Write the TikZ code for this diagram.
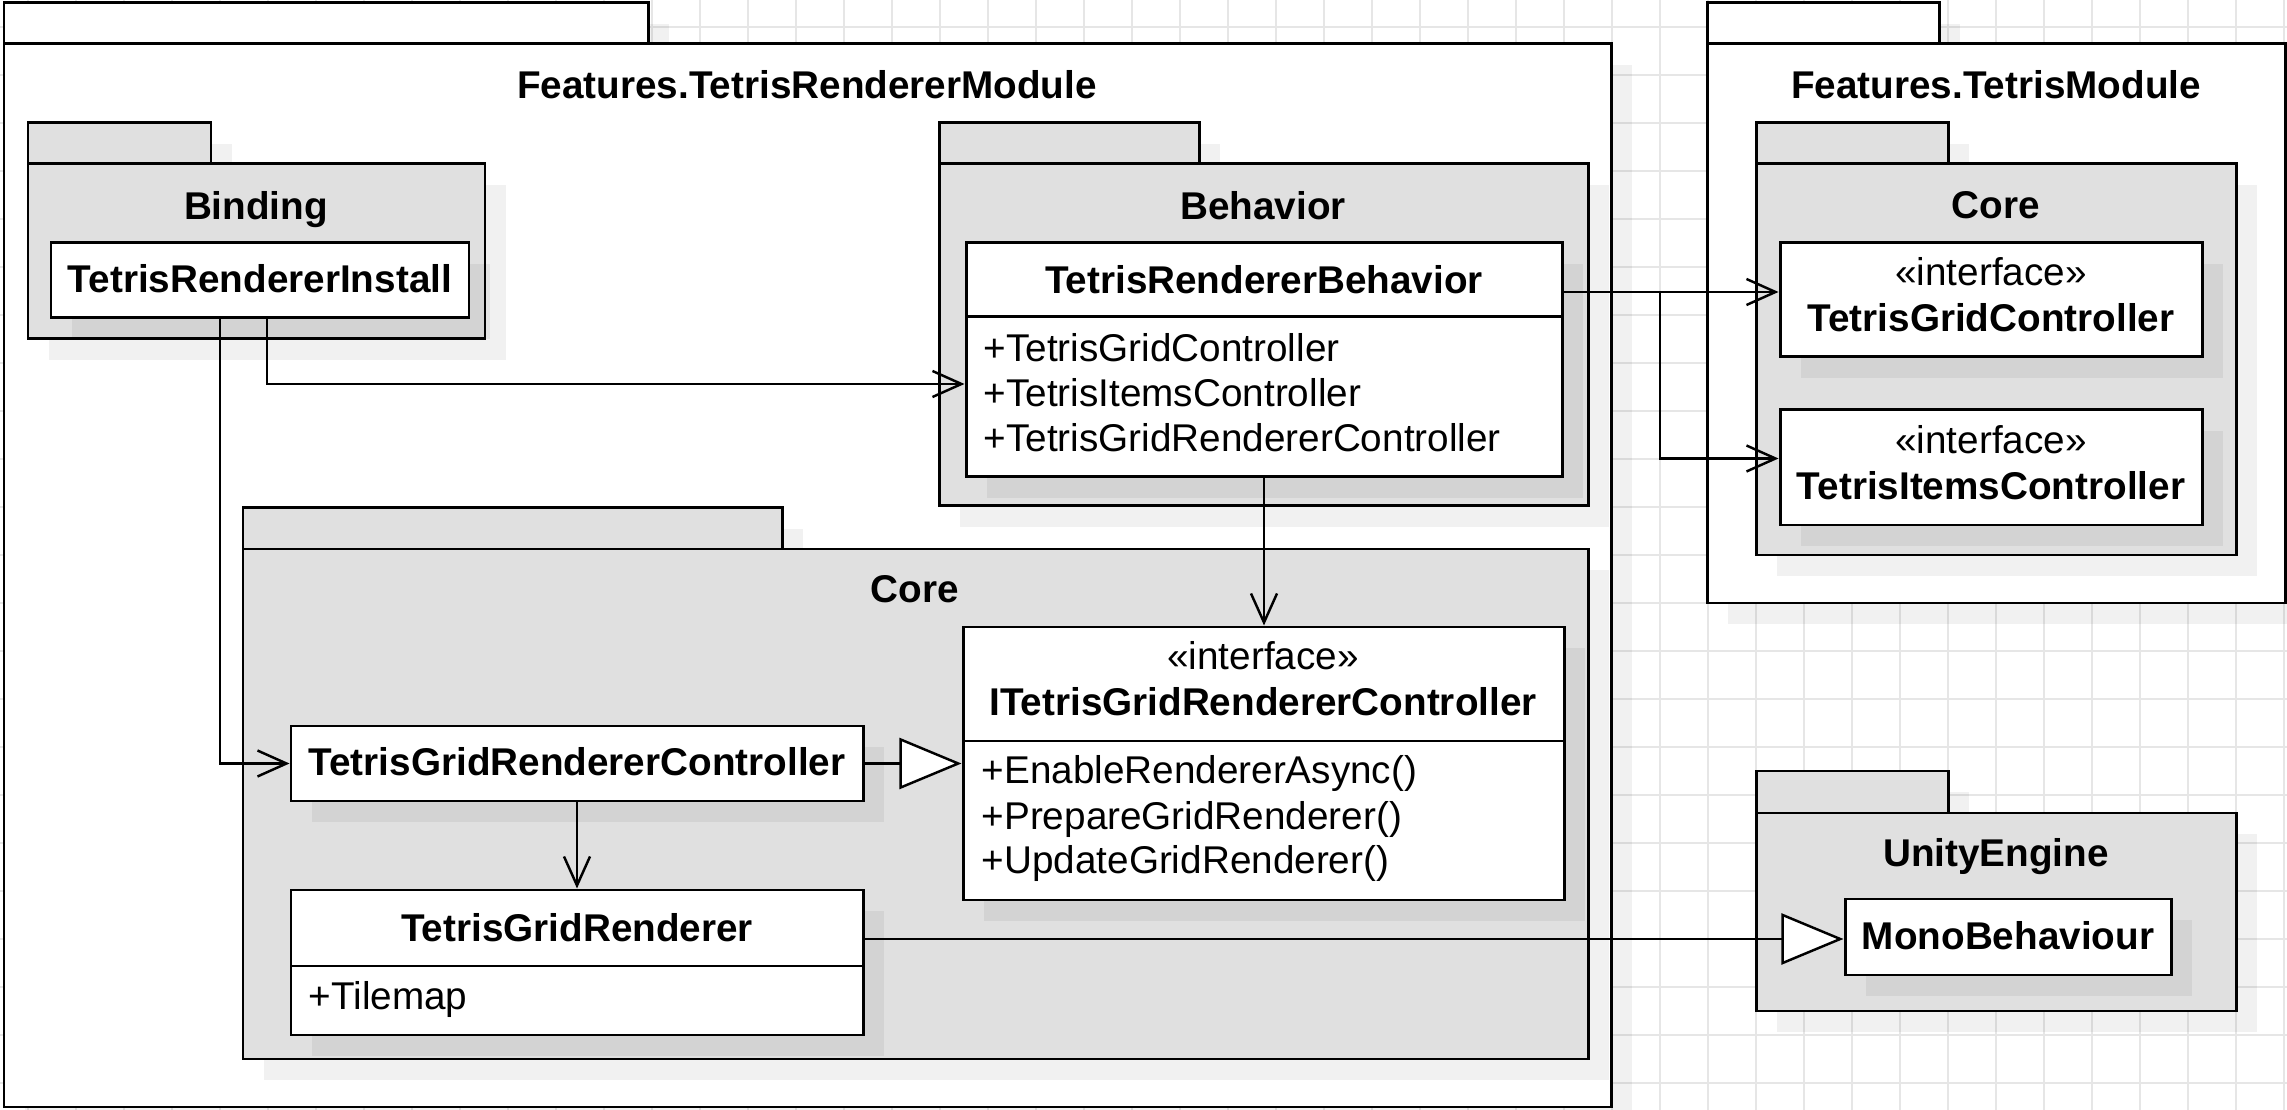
\documentclass[tikz,border=0pt]{standalone}
\usepackage{fontspec}
\setmainfont{Liberation Sans}
\usetikzlibrary{arrows.meta, calc, fit, shadows}
\definecolor{pkggray}{HTML}{E0E0E0}
\definecolor{gridgray}{HTML}{E6E6E6}
\begin{document}
\fontsize{11}{12.66}\selectfont
\begin{tikzpicture}[x=0.01cm, y=-0.01cm,
    boxshadow/.style={drop shadow={shadow xshift=0.21cm, shadow yshift=-0.21cm, opacity=0.055, fill=black}},
    outerpkg/.style={draw, line width=0.85pt, fill=white, boxshadow},
    innerpkg/.style={draw, line width=0.85pt, fill=pkggray, boxshadow},
    clsbox/.style={draw, line width=0.85pt, fill=white, inner sep=0pt, boxshadow},
    pkgtitle/.style={anchor=base, font=\bfseries},
    clsname/.style={anchor=base, font=\bfseries},
    stereo/.style={anchor=base},
    member/.style={anchor=base west, inner sep=0pt},
    dep/.style={-{Straight Barb[length=2.9mm, width=2.6mm]}, line width=0.7pt},
    realize/.style={-{Triangle[open, length=6.2mm, width=5.1mm, fill=white]}, line width=0.7pt},
    gridline/.style={draw=gridgray, line width=0.5pt}]

    % Background with grid
    \useasboundingbox (0,0) rectangle (2287,1110);
    \clip (0,0) rectangle (2287,1110);
    \fill[white] (0,0) rectangle (2287,1110);
    \foreach \gx in {28,76,...,2287} \draw[gridline] (\gx,0) -- (\gx,1110);
    \foreach \gy in {27,75,...,1110} \draw[gridline] (0,\gy) -- (2287,\gy);

    % Package Features.TetrisRendererModule
    \draw[outerpkg] (4,3) rectangle (648,44);
    \draw[outerpkg] (4,44) rectangle (1611,1107);
    \node[pkgtitle] (rendModTitle) at (807,99) {Features.TetrisRendererModule};

    % Package Binding
    \draw[innerpkg] (28,123) rectangle (211,164);
    \draw[innerpkg] (28,164) rectangle (485,339);
    \node[pkgtitle] (bindTitle) at (256,220) {Binding};
    \node[clsbox, fit={(51,243) (469,318)}] (inst) {};
    \node[clsname] (instName) at (260,293) {TetrisRendererInstall};

    % Package Behavior
    \draw[innerpkg] (939,123) rectangle (1199,164);
    \draw[innerpkg] (939,164) rectangle (1588,506);
    \node[pkgtitle] (behTitle) at (1263,220) {Behavior};
    \node[clsbox, fit={(966,243) (1562,317)}] (behHead) {};
    \node[clsbox, fit={(966,317) (1562,477)}] (behBody) {};
    \node[clsname] (behName) at (1264,294) {TetrisRendererBehavior};
    \node[member] (behA1) at (983,362) {+TetrisGridController};
    \node[member] (behA2) at (983,407) {+TetrisItemsController};
    \node[member] (behA3) at (983,452) {+TetrisGridRendererController};

    % Package Core (renderer)
    \draw[innerpkg] (243,508) rectangle (782,549);
    \draw[innerpkg] (243,549) rectangle (1588,1059);
    \node[pkgtitle] (coreTitle) at (915,603) {Core};
    \node[clsbox, fit={(291,726) (863,801)}] (rctl) {};
    \node[clsname] (rctlName) at (577,776) {TetrisGridRendererController};
    \node[clsbox, fit={(963,627) (1564,741)}] (irendHead) {};
    \node[clsbox, fit={(963,741) (1564,900)}] (irendBody) {};
    \node[stereo] (irendStereo) at (1263,670) {«interface»};
    \node[clsname] (irendName) at (1263,716) {ITetrisGridRendererController};
    \node[member] (irendM1) at (981,784) {+EnableRendererAsync()};
    \node[member] (irendM2) at (981,830) {+PrepareGridRenderer()};
    \node[member] (irendM3) at (981,874) {+UpdateGridRenderer()};
    \node[clsbox, fit={(291,890) (863,966)}] (rendHead) {};
    \node[clsbox, fit={(291,966) (863,1035)}] (rendBody) {};
    \node[clsname] (rendName) at (577,942) {TetrisGridRenderer};
    \node[member] (rendA1) at (308,1010) {+Tilemap};

    % Package Features.TetrisModule
    \draw[outerpkg] (1707,3) rectangle (1939,44);
    \draw[outerpkg] (1707,44) rectangle (2285,603);
    \node[pkgtitle] (tetModTitle) at (1996,99) {Features.TetrisModule};
    \draw[innerpkg] (1756,123) rectangle (1948,164);
    \draw[innerpkg] (1756,164) rectangle (2236,555);
    \node[pkgtitle] (tetCoreTitle) at (1996,219) {Core};
    \node[clsbox, fit={(1780,243) (2202,357)}] (gctl) {};
    \node[stereo] (gctlStereo) at (1991,286) {«interface»};
    \node[clsname] (gctlName) at (1991,332) {TetrisGridController};
    \node[clsbox, fit={(1780,410) (2202,525)}] (ictl) {};
    \node[stereo] (ictlStereo) at (1991,454) {«interface»};
    \node[clsname] (ictlName) at (1991,500) {TetrisItemsController};

    % Package UnityEngine
    \draw[innerpkg] (1756,771) rectangle (1948,813);
    \draw[innerpkg] (1756,813) rectangle (2236,1011);
    \node[pkgtitle] (unityTitle) at (1996,867) {UnityEngine};
    \node[clsbox, fit={(1845,899) (2171,975)}] (mono) {};
    \node[clsname] (monoName) at (2008,949) {MonoBehaviour};

    % Edges
    \coordinate (fork) at (1660,292);
    \coordinate (rendOut) at ($(rendHead.east)+(0,11)$);
    \draw[dep] ($(inst.south)+(7,0)$) |- ($(behBody.west)+(0,-13)$);
    \draw[dep] ($(inst.south)+(-40,0)$) |- (rctl.west);
    \draw[dep] ($(behHead.east)+(0,12)$) -- (fork -| gctl.west);
    \draw[dep] (fork) |- ($(ictl.west)+(0,-9)$);
    \draw[dep] (behBody.south) -- (behBody.south |- irendHead.north);
    \draw[realize] (rctl.east) -- (rctl.east -| irendBody.west);
    \draw[dep] (rctl.south) -- (rendHead.north);
    \draw[realize] (rendOut) -- (rendOut -| mono.west);
\end{tikzpicture}
\end{document}
